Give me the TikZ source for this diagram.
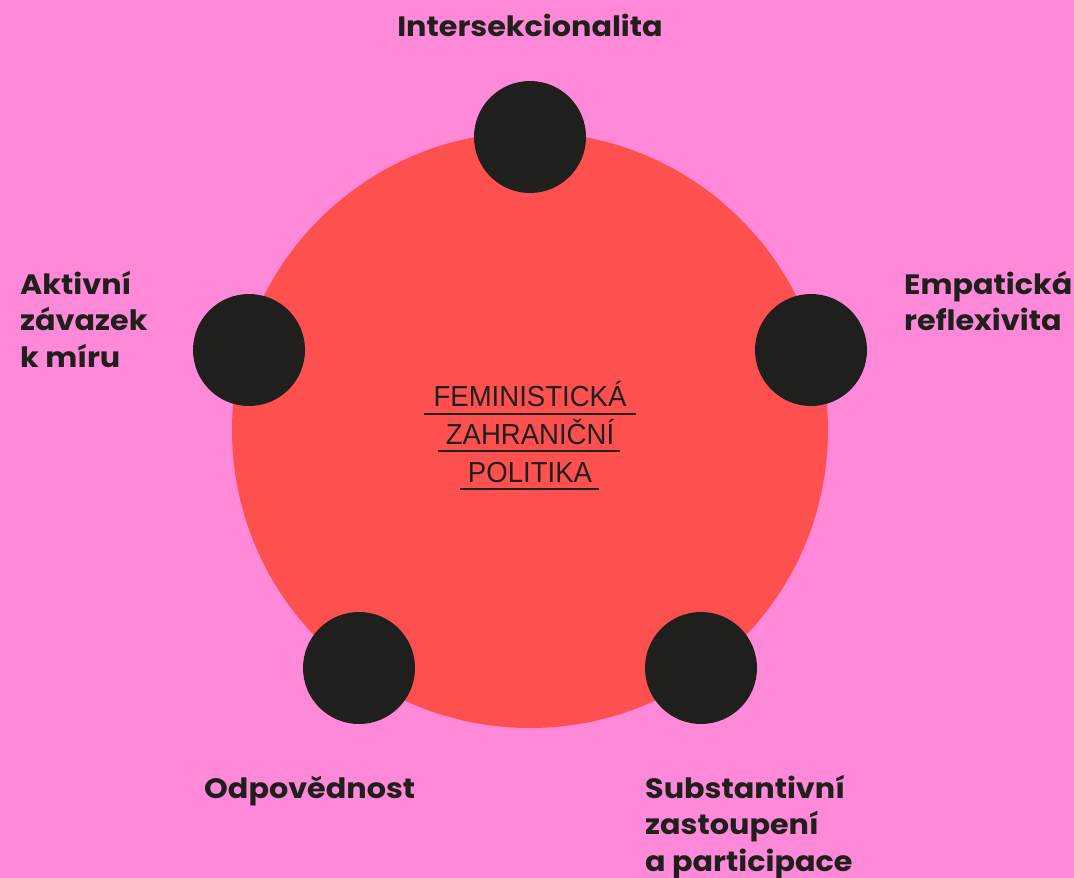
\documentclass[tikz,border=0pt]{standalone}
\usepackage{fontspec}
\setmainfont{Poppins}[BoldFont=* Bold,FakeStretch=1.08]
\newfontfamily\titlefont{Liberation Sans}[FakeStretch=0.95]
\definecolor{bgpink}{HTML}{FF88D8}
\definecolor{corered}{HTML}{FF5050}
\definecolor{dotblack}{HTML}{1F1F1D}
\begin{document}
\begin{tikzpicture}[x=1pt,y=-1pt,
  pillar/.style={circle,fill=dotblack,minimum size=112pt,inner sep=0pt},
  lbl/.style={font=\fontsize{28}{36.5}\selectfont\bfseries,text=dotblack,align=left,inner sep=0pt},
  ttl/.style={font=\titlefont\fontsize{29}{29}\selectfont,text=dotblack,inner sep=0pt}]
  \fill[bgpink] (0,0) rectangle (1074,878);
  \useasboundingbox (0,0) rectangle (1074,878);
  % central disc
  \node[circle,fill=corered,minimum size=596pt,inner sep=0pt] (core) at (530,430) {};
  % five pillars
  \node[pillar] (p1) at (530,137) {};
  \node[pillar] (p2) at (811,350) {};
  \node[pillar] (p3) at (701,668) {};
  \node[pillar] (p4) at (359,668) {};
  \node[pillar] (p5) at (249,350) {};
  % labels
  \node[lbl,anchor=north] (l1) at (530,14) {Intersekcionalita};
  \node[lbl,anchor=north west] (l2) at (904,271) {Empatická\\reflexivita};
  \node[lbl,anchor=north west] (l3) at (645,775) {Substantivní\\zastoupení\\a participace};
  \node[lbl,anchor=north west] (l4) at (204,776) {Odpovědnost};
  \node[lbl,anchor=north west] (l5) at (20,271) {Aktivní\\závazek\\k míru};
  % title with rules
  \node[ttl,anchor=base] (t1) at (530,406) {FEMINISTICKÁ};
  \node[ttl,anchor=base] (t2) at (530,444) {ZAHRANIČNÍ};
  \node[ttl,anchor=base] (t3) at (530,482) {POLITIKA};
  \draw[dotblack,line width=1.6pt] (424,414) -- (636,414);
  \draw[dotblack,line width=1.6pt] (438,451) -- (620,451);
  \draw[dotblack,line width=1.6pt] (460,489) -- (599,489);
\end{tikzpicture}
\end{document}
